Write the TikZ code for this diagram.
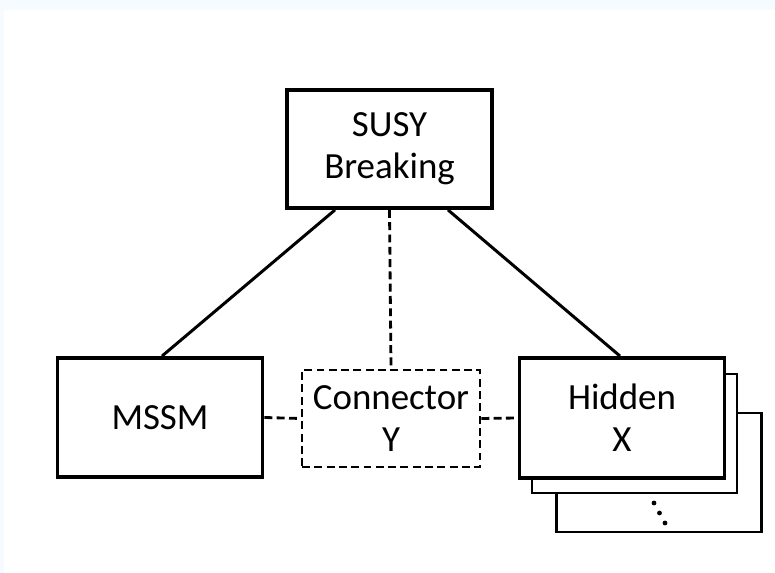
\documentclass[tikz,border=0pt]{standalone}
\usepackage{fontspec}
\setmainfont{Carlito}
\usepackage{xcolor}
\usepackage{tikz}
\definecolor{edgetint}{RGB}{246,251,255}

\begin{document}
\begin{tikzpicture}[x=0.02cm, y=-0.02cm,
			% Define the style for the nodes
			every node/.style={font=\fontsize{21}{24}\selectfont, align=center, inner sep=0pt},
			box/.style={draw, line width=2.2pt, fill=white, minimum width=4.1cm, minimum height=2.38cm},
			backbox/.style={draw, line width=1.2pt, fill=white, minimum width=4.1cm, minimum height=2.38cm},
			link/.style={line width=1.7pt},
			dlink/.style={line width=1.6pt, dash pattern=on 4.5pt off 2.5pt}
			]

			% faint frame of the page
			\fill[edgetint] (0,0) rectangle (775,573);
			\fill[white] (4,10) rectangle (775,573);
			\useasboundingbox (0,0) rectangle (775,573);

			\node (susy) at (389.5, 149) [box, minimum height=2.36cm] {SUSY\\Breaking};
			\node (mssm) at (160, 417.5) [box] {MSSM};
			\node (back2) at (659, 472.5) [backbox] {};
			\node (back1) at (634.5, 433.5) [backbox] {};
			\node (hidden) at (622, 418) [box, minimum height=2.4cm] {Hidden\\X};
			\node (conn) at (391, 418.5) [draw, dlink, minimum width=3.56cm, minimum height=1.94cm] {Connector\\Y};

			\draw[link] ([xshift=-1.09cm]susy.south) -- ([xshift=0.04cm]mssm.north);
			\draw[link] ([xshift=1.17cm]susy.south) -- ([xshift=-0.04cm]hidden.north);

			\draw[dlink] (susy.south) -- (conn.north);
			\draw[dlink] (mssm.east) -- (conn.west);
			\draw[dlink] (conn.east) -- (hidden.west);

			\foreach \px/\py in {654/503, 659.5/513, 665/523}
				\fill (\px,\py) circle (2.4);

		\end{tikzpicture}
\end{document}
